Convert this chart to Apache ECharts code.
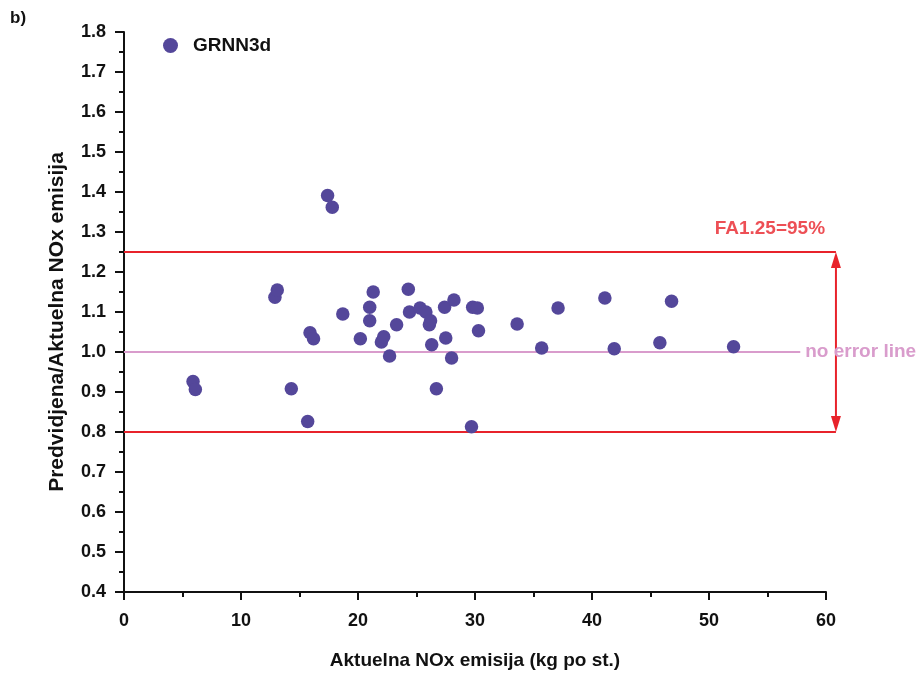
<!DOCTYPE html>
<html>
<head>
<meta charset="utf-8">
<script src="https://cdn.jsdelivr.net/npm/echarts@6/dist/echarts.min.js"></script>
<style>
html,body{margin:0;padding:0;background:#fff;}
#chart{width:924px;height:675px;}
</style>
</head>
<body>
<div id="chart"></div>
<script>
// Actual NOx emission (kg per head) and predicted/actual ratio for the GRNN3d model
const actualNOx = [17.4, 17.8, 12.9, 13.1, 15.9, 16.2, 18.7, 20.2, 21.0, 21.0,
  21.3, 22.0, 22.2, 22.7, 23.3, 24.3, 24.4, 25.3, 25.8, 26.1,
  26.2, 26.3, 26.7, 27.4, 27.5, 28.0, 28.2, 29.8, 30.2, 30.3,
  29.7, 33.6, 35.7, 37.1, 41.1, 41.9, 45.8, 46.8, 52.1, 5.9,
  6.1, 14.3, 15.7];
const ratio = [1.391, 1.362, 1.137, 1.155, 1.048, 1.033, 1.095, 1.033, 1.112, 1.078,
  1.150, 1.025, 1.038, 0.990, 1.068, 1.157, 1.100, 1.110, 1.100, 1.068,
  1.078, 1.018, 0.908, 1.112, 1.035, 0.985, 1.130, 1.112, 1.110, 1.053,
  0.813, 1.070, 1.010, 1.110, 1.135, 1.008, 1.023, 1.127, 1.013, 0.926,
  0.906, 0.908, 0.826];

// Factor-of-accuracy band and the no error reference
const faUpper = 1.25;
const faLower = 0.8;
const bandEndX = 60.85;
const noErrorY = 1.0;
const noErrorEndX = 57.8;
const faLabel = 'FA1.25=95%';
const faLabelX = 55.2;

const xTicks = [0, 10, 20, 30, 40, 50, 60];
const yTicks = [0.4, 0.5, 0.6, 0.7, 0.8, 0.9, 1.0, 1.1, 1.2, 1.3, 1.4, 1.5, 1.6, 1.7, 1.8];

const points = actualNOx.map((x, i) => [x, ratio[i]]);

const font = 'Liberation Sans, Arial, sans-serif';
const red = '#e8232b';
const pink = '#d99ccc';
const dot = '#54479a';
const ink = '#111';

const chart = echarts.init(document.getElementById('chart'), null, {renderer: 'canvas'});
chart.setOption({
  animation: false,
  backgroundColor: '#fff',
  textStyle: {fontFamily: font},
  title: {
    text: 'b)', left: 5, top: 5,
    textStyle: {fontSize: 17, fontWeight: 'bold', color: ink, fontFamily: font}
  },
  legend: {
    data: [{name: 'GRNN3d', icon: 'circle'}],
    left: 158, top: 31,
    itemWidth: 15, itemHeight: 15, itemGap: 10,
    textStyle: {fontSize: 19, fontWeight: 'bold', color: ink, fontFamily: font, padding: [0, 0, 0, 10]}
  },
  grid: {left: 124, right: 98, top: 32, bottom: 81, containLabel: false},
  xAxis: {
    type: 'value', min: xTicks[0], max: xTicks[xTicks.length - 1], interval: 10,
    name: 'Aktuelna NOx emisija (kg po st.)', nameLocation: 'middle', nameGap: 59,
    nameTextStyle: {fontSize: 19, fontWeight: 'bold', color: ink, fontFamily: font},
    axisLine: {show: true, onZero: false, lineStyle: {color: ink, width: 2}},
    axisTick: {show: true, inside: false, length: 8, lineStyle: {color: ink, width: 2}},
    minorTick: {show: true, splitNumber: 2, length: 5, lineStyle: {color: ink, width: 2}},
    axisLabel: {fontSize: 18, fontWeight: 'bold', color: ink, margin: 20, fontFamily: font},
    splitLine: {show: false}
  },
  yAxis: {
    type: 'value', min: yTicks[0], max: yTicks[yTicks.length - 1], interval: 0.1,
    name: 'Predvidjena/Aktuelna NOx emisija', nameLocation: 'middle', nameGap: 56,
    nameTextStyle: {fontSize: 21, fontWeight: 'bold', color: ink, fontFamily: font,
      padding: [0, 20, 0, 0]},
    axisLine: {show: true, onZero: false, lineStyle: {color: ink, width: 2}},
    axisTick: {show: true, inside: false, length: 9, lineStyle: {color: ink, width: 2}},
    minorTick: {show: true, splitNumber: 2, length: 5, lineStyle: {color: ink, width: 2}},
    axisLabel: {fontSize: 18, fontWeight: 'bold', color: ink, margin: 18, fontFamily: font,
      formatter: v => v.toFixed(1)},
    splitLine: {show: false}
  },
  series: [
    {
      name: 'noerror', type: 'line', silent: true, symbol: 'none',
      data: [[0, noErrorY], [noErrorEndX, noErrorY]],
      lineStyle: {color: pink, width: 2},
      endLabel: {show: true, formatter: 'no error line', color: pink, fontSize: 19,
        fontWeight: 'bold', fontFamily: font, distance: 5}
    },
    {
      name: 'falabel', type: 'scatter', silent: true, clip: false, symbolSize: 0,
      data: [[faLabelX, faUpper]],
      label: {show: true, position: 'top', distance: 14, formatter: faLabel, color: red,
        fontSize: 19, fontWeight: 'bold', fontFamily: font}
    },
    {
      name: 'GRNN3d', type: 'scatter', symbol: 'circle', symbolSize: 13.5,
      itemStyle: {color: dot, opacity: 1},
      data: points, z: 5
    }
  ]
});

// FA band lines and the double-headed arrow, placed through the grid's own scales
const toPx = p => chart.convertToPixel({gridIndex: 0}, p);
const u0 = toPx([0, faUpper]), u1 = toPx([bandEndX, faUpper]);
const l0 = toPx([0, faLower]), l1 = toPx([bandEndX, faLower]);
const headLen = 16, headHalf = 5;
const redLine = {stroke: red, lineWidth: 2};
chart.setOption({
  graphic: [
    {type: 'line', silent: true, z: 3, shape: {x1: u0[0], y1: u0[1], x2: u1[0], y2: u1[1]}, style: redLine},
    {type: 'line', silent: true, z: 3, shape: {x1: l0[0], y1: l0[1], x2: l1[0], y2: l1[1]}, style: redLine},
    {type: 'line', silent: true, z: 3, shape: {x1: u1[0], y1: u1[1] + 4, x2: l1[0], y2: l1[1] - 4}, style: redLine},
    {type: 'polygon', silent: true, z: 3,
      shape: {points: [[u1[0], u1[1]], [u1[0] - headHalf, u1[1] + headLen], [u1[0] + headHalf, u1[1] + headLen]]},
      style: {fill: red}},
    {type: 'polygon', silent: true, z: 3,
      shape: {points: [[l1[0], l1[1]], [l1[0] - headHalf, l1[1] - headLen], [l1[0] + headHalf, l1[1] - headLen]]},
      style: {fill: red}}
  ]
});
</script>
</body>
</html>
